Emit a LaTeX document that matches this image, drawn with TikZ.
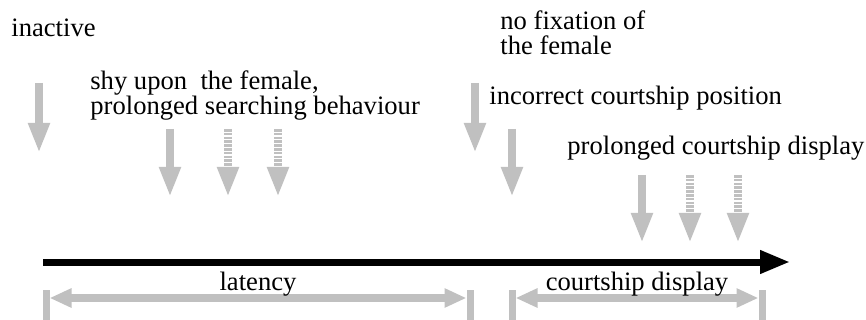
\documentclass[tikz,border=0pt]{standalone}
\usepackage{fontspec}
\setmainfont{Liberation Serif}
\usepackage{xcolor}
\usetikzlibrary{arrows.meta}
\definecolor{hellgrau}{RGB}{192,192,192}
\begin{document}
\begin{tikzpicture}[x=0.5pt,y=-0.5pt,
  txt/.style={anchor=base west,inner sep=0pt,font=\fontsize{13.3}{12.5}\selectfont},
  runter/.style={line width=4pt,hellgrau,-{Triangle[length=15pt,width=10pt]}},
  runterstr/.style={runter,dash pattern=on 1.3pt off 0.6pt},
  zeit/.style={line width=3.5pt,black,-{Triangle[length=15pt,width=11pt]}},
  spanne/.style={line width=4pt,hellgrau,{Triangle[length=11pt,width=9pt]}-{Triangle[length=11pt,width=9pt]}},
  strich/.style={line width=3.5pt,hellgrau}]
\useasboundingbox (0,0) rectangle (866,320);
\node [txt] (T1) at (11,37){inactive};
\node [txt] (T2a) at (90,90){shy upon~ the female,};
\node [txt] (T2b) at (90,115){prolonged searching behaviour};
\node [txt] (T3a) at (500,30){no fixation of};
\node [txt] (T3b) at (500,55){the female};
\node [txt] (T4) at (489,105){incorrect courtship position};
\node [txt] (T5) at (567,155){prolonged courtship display};
\coordinate (A1) at (39,83);  \coordinate (B1) at (39,153);
\coordinate (A2) at (170,129); \coordinate (B2) at (170,197);
\coordinate (A3) at (228,129); \coordinate (B3) at (228,197);
\coordinate (A4) at (278,129); \coordinate (B4) at (278,197);
\coordinate (A5) at (475,83); \coordinate (B5) at (475,153);
\coordinate (A6) at (512,129); \coordinate (B6) at (512,197);
\coordinate (A7) at (642,175); \coordinate (B7) at (642,243);
\coordinate (A8) at (690,175); \coordinate (B8) at (690,243);
\coordinate (A9) at (738,175); \coordinate (B9) at (738,243);
\draw [runter] (A1) -- (B1);
\draw [runter] (A2) -- (B2);
\draw [runterstr] (A3) -- (B3);
\draw [runterstr] (A4) -- (B4);
\draw [runter] (A5) -- (B5);
\draw [runter] (A6) -- (B6);
\draw [runter] (A7) -- (B7);
\draw [runterstr] (A8) -- (B8);
\draw [runterstr] (A9) -- (B9);
\coordinate (Z0) at (43,262); \coordinate (Z1) at (790,262);
\draw [zeit] (Z0) -- (Z1);
\coordinate (L0) at (46,290); \coordinate (L1) at (46,320);
\coordinate (L2) at (470,290); \coordinate (L3) at (470,320);
\coordinate (K0) at (512,290); \coordinate (K1) at (512,320);
\coordinate (K2) at (762,290); \coordinate (K3) at (762,320);
\draw [strich] (L0) -- (L1);
\draw [strich] (L2) -- (L3);
\draw [strich] (K0) -- (K1);
\draw [strich] (K2) -- (K3);
\coordinate (LA) at (49.5,298); \coordinate (LB) at (466.5,298);
\coordinate (KA) at (515.5,298); \coordinate (KB) at (758.5,298);
\draw [spanne] (LA) -- (LB);
\draw [spanne] (KA) -- (KB);
\node [txt,anchor=base] (lat) at (258,290){latency};
\node [txt,anchor=base] (bal) at (637,290){courtship display};
\end{tikzpicture}
\end{document}
